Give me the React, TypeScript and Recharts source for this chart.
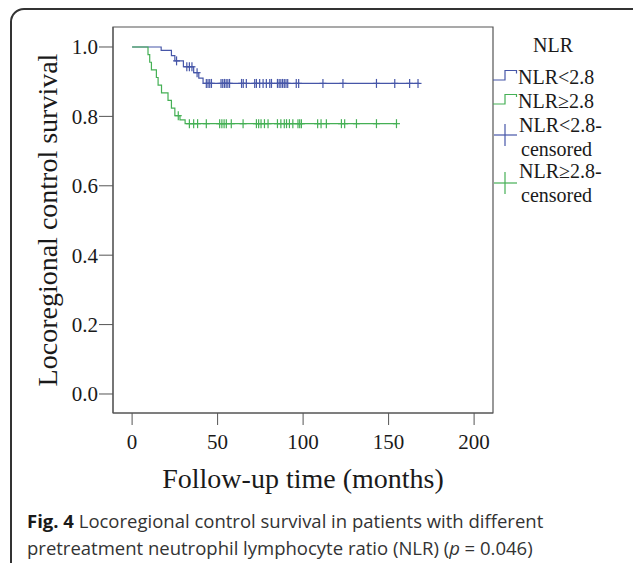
import { ComposedChart, Label, Line, ReferenceArea, Scatter, XAxis, YAxis } from "recharts";

// Kaplan-Meier steps (months, survival)
const lowTimes = [0, 17, 23, 25, 30, 36, 39, 41.5, 168];
const lowSurv = [1, 0.99, 0.975, 0.96, 0.943, 0.926, 0.91, 0.895, 0.895];
const lowCensored = [
  26, 32, 33.5, 35, 38, 43.4, 44.4, 45.4, 46.4, 52, 53, 54, 55, 56, 57, 64, 65, 66.8, 71.7, 72.7, 74.6, 76.6,
  78.5, 80.5, 81.5, 85, 86, 87, 88, 89, 90, 91, 96, 97.4, 111.6, 123.3, 142.9, 153.6, 162.3, 167.2,
];

const highTimes = [0, 9.3, 10.3, 11.3, 14.2, 15.2, 17.2, 21, 23, 25, 28, 31, 155];
const highSurv = [1, 0.978, 0.956, 0.934, 0.912, 0.89, 0.868, 0.846, 0.824, 0.802, 0.79, 0.779, 0.779];
const highCensored = [
  27, 33.5, 36, 38.3, 43.4, 51.2, 52.5, 53.8, 55.1, 58, 64.9, 72.7, 74, 75.4, 77.4, 79.5, 85, 87, 89, 90.3, 92,
  94, 97, 98, 99, 108.5, 110.5, 113.6, 122.4, 124.3, 131.2, 142.9, 154.6,
];

const xTicks = [0, 50, 100, 150, 200];
const yTicks = [0, 0.2, 0.4, 0.6, 0.8, 1.0];

const BLUE = "#4656a8";
const GREEN = "#45b055";
const serif = "'Liberation Serif', 'Times New Roman', serif";

const toSteps = (times: number[], surv: number[]) => times.map((t, i) => ({ t, s: surv[i] }));

// censor marks sit on the curve, so look up the step value at that time
const onCurve = (times: number[], surv: number[], cens: number[]) =>
  cens.map((t) => {
    let s = surv[0];
    times.forEach((tt, i) => {
      if (tt <= t) s = surv[i];
    });
    return { t, s };
  });

const lowData = toSteps(lowTimes, lowSurv);
const highData = toSteps(highTimes, highSurv);
const lowCens = onCurve(lowTimes, lowSurv, lowCensored);
const highCens = onCurve(highTimes, highSurv, highCensored);

const Plus = ({ cx, cy, color }: { cx: number; cy: number; color: string }) => (
  <g stroke={color} strokeWidth={1.2}>
    <line x1={cx - 3.5} x2={cx + 3.5} y1={cy} y2={cy} />
    <line x1={cx} x2={cx} y1={cy - 4.5} y2={cy + 4.5} />
  </g>
);

const tickStyle = { fill: "#1a1a1a", fontSize: 21, fontFamily: serif };

export default function App() {
  return (
    <div
      style={{
        position: "absolute",
        left: 0,
        top: 0,
        width: 633,
        height: 563,
        overflow: "hidden",
        background: "#fff",
      }}
    >
      <div
        style={{
          position: "absolute",
          left: 10,
          top: 8,
          width: 660,
          height: 620,
          border: "2px solid #333",
          borderRadius: 14,
        }}
      />

      <div style={{ position: "absolute", left: 0, top: 0 }}>
        <ComposedChart width={633} height={500} margin={{ top: 27, right: 140, left: 0, bottom: 0 }}>
          <XAxis
            type="number"
            dataKey="t"
            domain={[-11.17, 211.05]}
            allowDataOverflow
            ticks={xTicks}
            tick={tickStyle}
            tickSize={12}
            tickMargin={9}
            height={87}
            stroke="#555"
          >
            <Label
              value="Follow-up time (months)"
              position="insideBottom"
              offset={12}
              style={{ fontSize: 28, fontFamily: serif, fill: "#1a1a1a" }}
            />
          </XAxis>
          <YAxis
            type="number"
            dataKey="s"
            domain={[-0.0548, 1.0576]}
            allowDataOverflow
            ticks={yTicks}
            tickFormatter={(v: number) => v.toFixed(1)}
            tick={tickStyle}
            tickSize={14}
            tickMargin={1}
            width={113}
            stroke="#555"
          >
            <Label
              value="Locoregional control survival"
              angle={-90}
              position="insideLeft"
              offset={47}
              style={{ textAnchor: "middle", fontSize: 28, fontFamily: serif, fill: "#1a1a1a" }}
            />
          </YAxis>
          <ReferenceArea
            x1={-11.17}
            x2={211.05}
            y1={-0.0548}
            y2={1.0576}
            fill="none"
            stroke="#555"
            strokeWidth={1.2}
            ifOverflow="visible"
          />
          <Line
            data={lowData}
            dataKey="s"
            type="stepAfter"
            stroke={BLUE}
            strokeWidth={1.2}
            dot={false}
            isAnimationActive={false}
          />
          <Line
            data={highData}
            dataKey="s"
            type="stepAfter"
            stroke={GREEN}
            strokeWidth={1.2}
            dot={false}
            isAnimationActive={false}
          />
          <Scatter
            data={lowCens}
            dataKey="s"
            isAnimationActive={false}
            shape={(p: any) => <Plus cx={p.cx} cy={p.cy} color={BLUE} />}
          />
          <Scatter
            data={highCens}
            dataKey="s"
            isAnimationActive={false}
            shape={(p: any) => <Plus cx={p.cx} cy={p.cy} color={GREEN} />}
          />
        </ComposedChart>
      </div>

      {/* legend */}
      <svg style={{ position: "absolute", left: 0, top: 0 }} width={633} height={563}>
        <g fontFamily={serif} fontSize={20} fill="#1a1a1a">
          <text x={553} y={52} textAnchor="middle">NLR</text>
          <path d="M493,80 H505 V70.5 H516.5 V73.5" fill="none" stroke={BLUE} strokeWidth={1.2} />
          <text x={518} y={84}>NLR&lt;2.8</text>
          <path d="M493,104 H505 V94.5 H516.5 V97" fill="none" stroke={GREEN} strokeWidth={1.2} />
          <text x={518} y={108}>NLR≥2.8</text>
          <g stroke={BLUE} strokeWidth={1.2}>
            <line x1={494} x2={517} y1={135} y2={135} />
            <line x1={505} x2={505} y1={124} y2={146} />
          </g>
          <text x={519} y={132}>NLR&lt;2.8-</text>
          <text x={521} y={156}>censored</text>
          <g stroke={GREEN} strokeWidth={1.2}>
            <line x1={494} x2={517} y1={183} y2={183} />
            <line x1={505} x2={505} y1={172} y2={194} />
          </g>
          <text x={519} y={178}>NLR≥2.8-</text>
          <text x={521} y={202}>censored</text>
        </g>
      </svg>

      <div
        style={{
          position: "absolute",
          left: 27,
          top: 507,
          fontFamily: "'Open Sans', 'Noto Sans', sans-serif",
          fontSize: 18.5,
          lineHeight: "27px",
          color: "#333",
          whiteSpace: "nowrap",
        }}
      >
        <b style={{ color: "#1a1a1a" }}>Fig. 4</b> Locoregional control survival in patients with different
        <br />
        pretreatment neutrophil lymphocyte ratio (NLR) (<i>p</i> = 0.046)
      </div>
    </div>
  );
}
